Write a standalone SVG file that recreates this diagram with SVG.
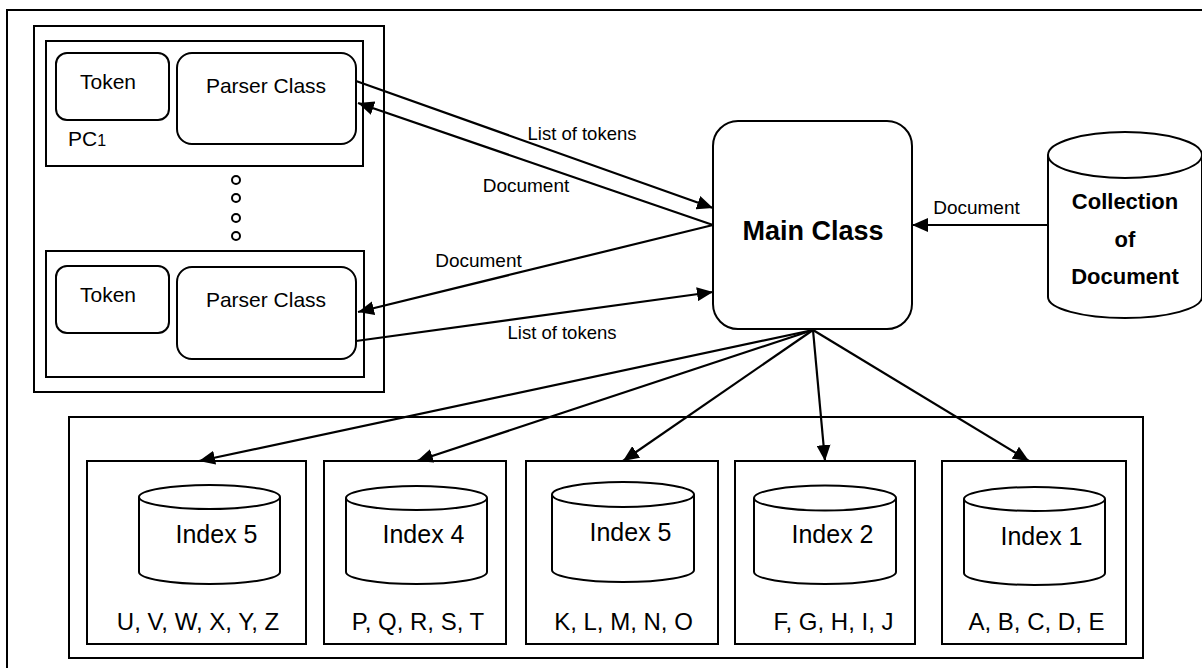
<svg xmlns="http://www.w3.org/2000/svg" width="1202" height="668" viewBox="0 0 1202 668">
<style>
.b{fill:#fff;stroke:#000;stroke-width:2}
.n{fill:none;stroke:#000;stroke-width:2}
.t{font-family:"Liberation Sans",Arial,sans-serif;fill:#000;text-anchor:middle}
.c{stroke:#000;stroke-width:2.2;fill:none;marker-end:url(#ah)}
</style>
<defs>
<marker id="ah" markerUnits="userSpaceOnUse" markerWidth="16" markerHeight="14" refX="16" refY="7" orient="auto">
<path d="M0,0 L16,7 L0,14 z" fill="#000"/>
</marker>
</defs>
<rect x="7" y="10" width="1210" height="690" class="n"/>
<g id="parser-group">
<rect x="34" y="26" width="350" height="366" class="b"/>
<g id="pc1">
<rect x="46" y="41" width="317" height="125" class="b"/>
<rect x="56" y="53" width="113" height="67" rx="11" class="b"/>
<text x="108" y="89" class="t" font-size="21">Token</text>
<rect x="177" y="53" width="179" height="91" rx="15" class="b"/>
<text x="266" y="93" class="t" font-size="21">Parser Class</text>
<text x="68" y="146" class="t" font-size="21" style="text-anchor:start">PC<tspan font-size="16">1</tspan></text>
</g>
<g id="dots">
<circle cx="236" cy="180" r="4" class="n"/>
<circle cx="236" cy="198" r="4" class="n"/>
<circle cx="236" cy="218" r="4" class="n"/>
<circle cx="236" cy="236" r="4" class="n"/>
</g>
<g id="pcn">
<rect x="46" y="251" width="318" height="126" class="b"/>
<rect x="56" y="266" width="113" height="67" rx="11" class="b"/>
<text x="108" y="302" class="t" font-size="21">Token</text>
<rect x="177" y="267" width="179" height="92" rx="15" class="b"/>
<text x="266" y="307" class="t" font-size="21">Parser Class</text>
</g>
</g>
<g id="main-class">
<rect x="713" y="121" width="199" height="208" rx="25" class="b"/>
<text x="813" y="240" class="t" font-size="27" font-weight="bold">Main Class</text>
</g>
<g id="collection">
<path d="M1048,155 L1048,297 A77,21 0 0 0 1202,297 L1202,155" class="b"/>
<ellipse cx="1125" cy="155" rx="77" ry="23" class="b"/>
<text x="1125" y="209" class="t" font-size="22" font-weight="bold">Collection</text>
<text x="1125" y="247" class="t" font-size="22" font-weight="bold">of</text>
<text x="1125" y="284" class="t" font-size="22" font-weight="bold">Document</text>
</g>
<g id="index-container">
<rect x="69" y="417" width="1074" height="241" class="b"/>
</g>
<g id="index-u">
<rect x="87" y="461" width="219" height="183" class="b"/>
<path d="M139,497 L139,572 A70.5,12 0 0 0 280,572 L280,497" class="b"/>
<ellipse cx="209.5" cy="497" rx="70.5" ry="12" class="b"/>
<text x="216.5" y="543" class="t" font-size="25">Index 5</text>
<text x="198" y="630" class="t" font-size="24">U, V, W, X, Y, Z</text>
</g>
<g id="index-p">
<rect x="324" y="461" width="182" height="183" class="b"/>
<path d="M346,498 L346,572 A70.5,12 0 0 0 487,572 L487,498" class="b"/>
<ellipse cx="416.5" cy="498" rx="70.5" ry="12" class="b"/>
<text x="423.5" y="543" class="t" font-size="25">Index 4</text>
<text x="418" y="630" class="t" font-size="24">P, Q, R, S, T</text>
</g>
<g id="index-k">
<rect x="526" y="461" width="192" height="183" class="b"/>
<path d="M552,494.5 L552,570 A71,12 0 0 0 694,570 L694,494.5" class="b"/>
<ellipse cx="623" cy="494.5" rx="71" ry="12.5" class="b"/>
<text x="630.5" y="541" class="t" font-size="25">Index 5</text>
<text x="623.5" y="630" class="t" font-size="24">K, L, M, N, O</text>
</g>
<g id="index-f">
<rect x="735" y="461" width="180" height="183" class="b"/>
<path d="M754,498 L754,572 A71,12 0 0 0 896,572 L896,498" class="b"/>
<ellipse cx="825" cy="498" rx="71" ry="12.5" class="b"/>
<text x="832.5" y="543" class="t" font-size="25">Index 2</text>
<text x="833.5" y="630" class="t" font-size="24">F, G, H, I, J</text>
</g>
<g id="index-a">
<rect x="942" y="461" width="184" height="183" class="b"/>
<path d="M964,499 L964,573 A70.5,12 0 0 0 1105,573 L1105,499" class="b"/>
<ellipse cx="1034.5" cy="499" rx="70.5" ry="12" class="b"/>
<text x="1041.5" y="545" class="t" font-size="25">Index 1</text>
<text x="1036.5" y="630" class="t" font-size="24">A, B, C, D, E</text>
</g>
<g id="connectors">
<line x1="356" y1="81" x2="713" y2="208" class="c"/>
<line x1="713" y1="225" x2="358" y2="103" class="c"/>
<line x1="713" y1="225" x2="358" y2="312" class="c"/>
<line x1="356" y1="341" x2="713" y2="292" class="c"/>
<line x1="1048" y1="225" x2="912" y2="225" class="c"/>
<line x1="813" y1="330" x2="199" y2="461" class="c"/>
<line x1="813" y1="330" x2="417" y2="461" class="c"/>
<line x1="813" y1="330" x2="623" y2="461" class="c"/>
<line x1="813" y1="330" x2="825" y2="461" class="c"/>
<line x1="813" y1="330" x2="1029" y2="461" class="c"/>
<text x="582" y="140" class="t" font-size="18.5">List of tokens</text>
<text x="526" y="192" class="t" font-size="19">Document</text>
<text x="478.5" y="267" class="t" font-size="19">Document</text>
<text x="562" y="339" class="t" font-size="18.5">List of tokens</text>
<text x="976.5" y="214" class="t" font-size="19">Document</text>
</g>
</svg>
